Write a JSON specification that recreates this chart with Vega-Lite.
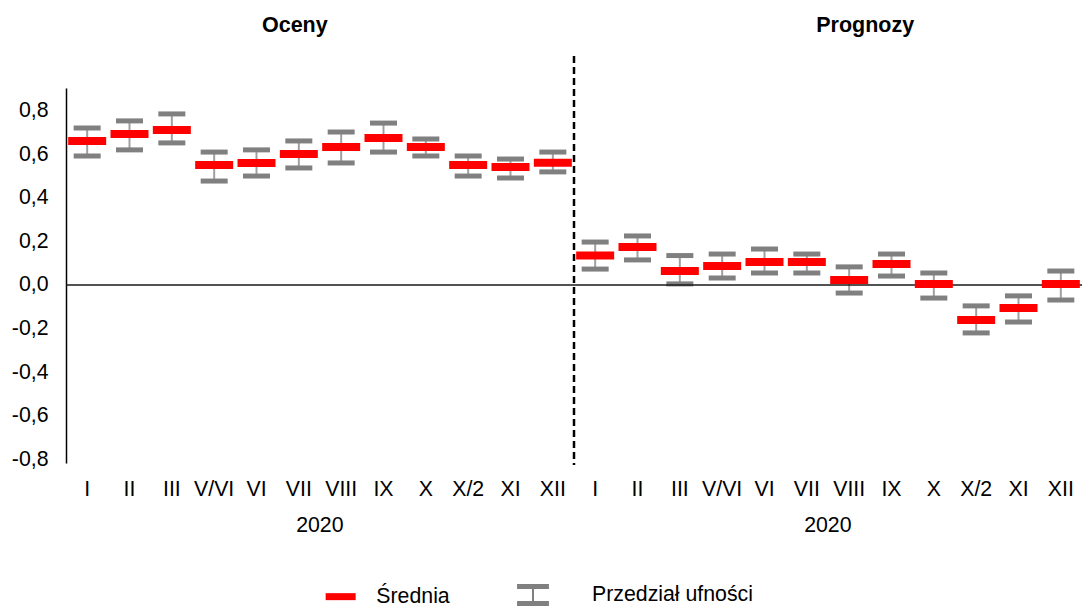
{
  "$schema": "https://vega.github.io/schema/vega-lite/v6.json",
  "autosize": {"type": "none"},
  "padding": {"left": 66, "top": 88, "right": 1, "bottom": 145},
  "width": 1016,
  "height": 375,
  "background": "white",
  "config": {
    "view": {"stroke": null},
    "font": "Liberation Sans",
    "text": {"font": "Liberation Sans"}
  },
  "datasets": {
    "main": [
      {"key": "O-I", "mean": 0.661, "lo": 0.592, "hi": 0.720},
      {"key": "O-II", "mean": 0.693, "lo": 0.620, "hi": 0.753},
      {"key": "O-III", "mean": 0.711, "lo": 0.652, "hi": 0.785},
      {"key": "O-V/VI", "mean": 0.551, "lo": 0.477, "hi": 0.610},
      {"key": "O-VI", "mean": 0.560, "lo": 0.500, "hi": 0.620},
      {"key": "O-VII", "mean": 0.601, "lo": 0.537, "hi": 0.661},
      {"key": "O-VIII", "mean": 0.633, "lo": 0.560, "hi": 0.702},
      {"key": "O-IX", "mean": 0.675, "lo": 0.610, "hi": 0.743},
      {"key": "O-X", "mean": 0.633, "lo": 0.592, "hi": 0.670},
      {"key": "O-X/2", "mean": 0.551, "lo": 0.500, "hi": 0.592},
      {"key": "O-XI", "mean": 0.542, "lo": 0.491, "hi": 0.578},
      {"key": "O-XII", "mean": 0.561, "lo": 0.519, "hi": 0.610},
      {"key": "P-I", "mean": 0.135, "lo": 0.073, "hi": 0.197},
      {"key": "P-II", "mean": 0.174, "lo": 0.115, "hi": 0.225},
      {"key": "P-III", "mean": 0.064, "lo": 0.005, "hi": 0.135},
      {"key": "P-V/VI", "mean": 0.087, "lo": 0.032, "hi": 0.142},
      {"key": "P-VI", "mean": 0.106, "lo": 0.055, "hi": 0.165},
      {"key": "P-VII", "mean": 0.106, "lo": 0.055, "hi": 0.142},
      {"key": "P-VIII", "mean": 0.023, "lo": -0.037, "hi": 0.083},
      {"key": "P-IX", "mean": 0.096, "lo": 0.041, "hi": 0.142},
      {"key": "P-X", "mean": 0.005, "lo": -0.060, "hi": 0.055},
      {"key": "P-X/2", "mean": -0.161, "lo": -0.220, "hi": -0.096},
      {"key": "P-XI", "mean": -0.106, "lo": -0.170, "hi": -0.050},
      {"key": "P-XII", "mean": 0.005, "lo": -0.069, "hi": 0.064}
    ],
    "notes": [
      {"label": "Oceny", "at": "O-VII", "kind": "header1"},
      {"label": "Prognozy", "at": "P-VIII", "kind": "header2"},
      {"label": "2020", "at": "O-VII", "kind": "year"},
      {"label": "2020", "at": "P-VII", "kind": "year"}
    ]
  },
  "data": {"name": "main"},
  "encoding": {
    "x": {
      "field": "key",
      "type": "nominal",
      "sort": null,
      "scale": {"paddingInner": 0, "paddingOuter": 0},
      "axis": {
        "title": null,
        "domain": false,
        "ticks": false,
        "labelAngle": 0,
        "labelFontSize": 21.3,
        "labelColor": "#000000",
        "labelFont": "Liberation Sans",
        "labelPadding": 15,
        "labelExpr": "split(datum.label, '-')[1]"
      }
    },
    "y": {
      "type": "quantitative",
      "scale": {"domain": [-0.817, 0.904], "nice": false, "zero": false},
      "axis": {
        "title": null,
        "grid": false,
        "ticks": false,
        "domain": true,
        "domainColor": "#000000",
        "domainWidth": 1.5,
        "values": [-0.8, -0.6, -0.4, -0.2, 0, 0.2, 0.4, 0.6, 0.8],
        "labelFontSize": 21.3,
        "labelColor": "#000000",
        "labelFont": "Liberation Sans",
        "labelPadding": 18,
        "labelExpr": "(datum.value < 0 ? '-' : '') + replace(format(abs(datum.value), '.1f'), '.', ',')"
      }
    }
  },
  "layer": [
    {
      "mark": {"type": "rule", "color": "#a0a0a0", "strokeWidth": 2, "opacity": 1},
      "encoding": {"y": {"field": "lo"}, "y2": {"field": "hi"}}
    },
    {
      "mark": {"type": "tick", "size": 27, "thickness": 5, "opacity": 1},
      "encoding": {
        "y": {"field": "lo"},
        "fill": {
          "datum": "Przedział ufności",
          "scale": {"range": ["#808080"]},
          "legend": {
            "title": null,
            "orient": "none",
            "legendX": 456,
            "legendY": 496,
            "symbolType": "M-1.45,-1H1.45V-0.55H0.09V0.55H1.45V1H-1.45V0.55H-0.09V-0.55H-1.45Z",
            "symbolSize": 484,
            "symbolFillColor": "#808080",
            "symbolOpacity": 1,
            "symbolStrokeWidth": 0,
            "labelFontSize": 21.3,
            "labelFont": "Liberation Sans",
            "labelColor": "#000000",
            "labelOffset": 48,
            "labelLimit": 400
          }
        }
      }
    },
    {
      "mark": {"type": "tick", "size": 27, "thickness": 5, "opacity": 1},
      "encoding": {
        "y": {"field": "hi"},
        "fill": {"datum": "Przedział ufności"}
      }
    },
    {
      "data": {"values": [{}]},
      "mark": {"type": "rule", "color": "#1a1a1a", "strokeWidth": 1.5},
      "encoding": {"x": null, "y": {"datum": 0}}
    },
    {
      "mark": {"type": "tick", "size": 38, "thickness": 8, "opacity": 1},
      "encoding": {
        "y": {"field": "mean"},
        "color": {
          "datum": "Średnia",
          "scale": {"range": ["#ff0000"]},
          "legend": {
            "title": null,
            "orient": "none",
            "legendX": 264,
            "legendY": 498,
            "symbolType": "M-1.5,-0.35H1.5V0.35H-1.5Z",
            "symbolSize": 400,
            "symbolFillColor": "#ff0000",
            "symbolOpacity": 1,
            "symbolStrokeWidth": 0,
            "labelFontSize": 21.3,
            "labelFont": "Liberation Sans",
            "labelColor": "#000000",
            "labelOffset": 25,
            "labelLimit": 400
          }
        }
      }
    },
    {
      "data": {"values": [{}]},
      "mark": {"type": "rule", "color": "#000000", "strokeWidth": 2.5, "strokeDash": [7, 4]},
      "encoding": {
        "x": {"datum": "P-I", "bandPosition": 0},
        "y": {"datum": 1.051},
        "y2": {"datum": -0.826}
      }
    },
    {
      "data": {"name": "notes"},
      "transform": [{"filter": "datum.kind == 'header1'"}],
      "mark": {"type": "text", "fontWeight": "bold", "fontSize": 21.5, "baseline": "alphabetic", "color": "#000000", "dx": -4, "font": "Liberation Sans"},
      "encoding": {
        "x": {"field": "at", "type": "nominal"},
        "y": {"datum": 1.16},
        "text": {"field": "label"}
      }
    },
    {
      "data": {"name": "notes"},
      "transform": [{"filter": "datum.kind == 'header2'"}],
      "mark": {"type": "text", "fontWeight": "bold", "fontSize": 21.5, "baseline": "alphabetic", "color": "#000000", "dx": 16, "font": "Liberation Sans"},
      "encoding": {
        "x": {"field": "at", "type": "nominal"},
        "y": {"datum": 1.16},
        "text": {"field": "label"}
      }
    },
    {
      "data": {"name": "notes"},
      "transform": [{"filter": "datum.kind == 'year'"}],
      "mark": {"type": "text", "fontSize": 21.3, "baseline": "alphabetic", "color": "#000000", "dx": 21, "font": "Liberation Sans"},
      "encoding": {
        "x": {"field": "at", "type": "nominal"},
        "y": {"datum": -1.134},
        "text": {"field": "label"}
      }
    }
  ]
}
